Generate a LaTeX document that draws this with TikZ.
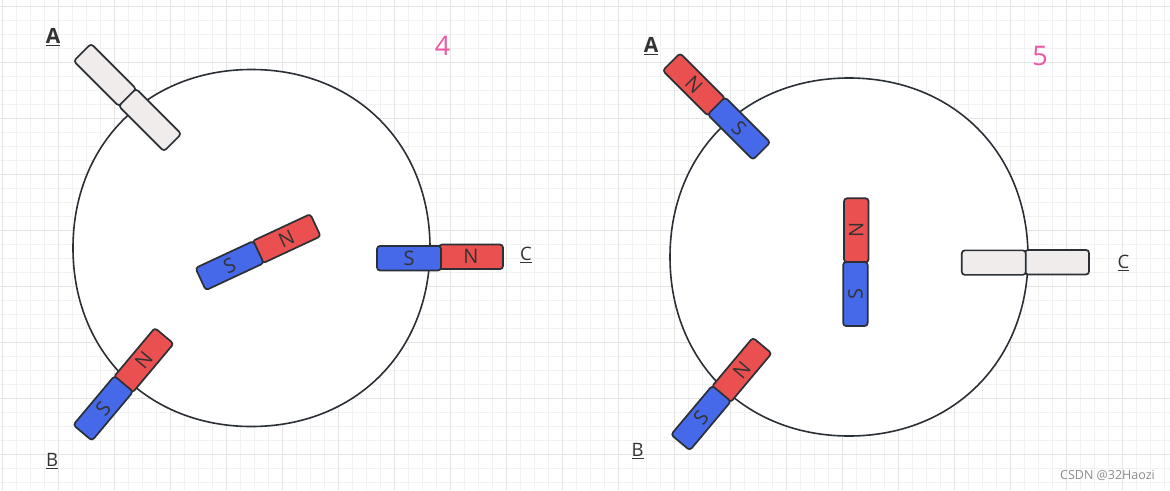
\documentclass[tikz,border=0pt]{standalone}
\usepackage{fontspec}
\setmainfont{Open Sans}
\definecolor{magred}{HTML}{EB5050}
\definecolor{magblue}{HTML}{4669EA}
\definecolor{maggrey}{HTML}{F0ECEC}
\definecolor{inkdark}{HTML}{2B2F36}
\definecolor{textdark}{HTML}{333333}
\definecolor{gridmajor}{HTML}{E4E4E4}
\definecolor{gridminor}{HTML}{F1F1F1}
\definecolor{pinknum}{HTML}{EE55A5}
\tikzset{
  magbox/.style={draw=inkdark,line width=1.7pt,rounded corners=3pt,minimum width=64pt,minimum height=24.5pt,inner sep=0pt,text=textdark,font=\fontsize{20}{20}\selectfont},
  redmag/.style={magbox,fill=magred},
  bluemag/.style={magbox,fill=magblue},
  greymag/.style={magbox,fill=maggrey},
  poslabel/.style={text=textdark,inner sep=0pt,font=\fontsize{18.5}{18}\selectfont},
  boldlabel/.style={poslabel,font=\fontsize{21}{20}\selectfont\bfseries},
  numlabel/.style={text=pinknum,inner sep=0pt,font=\fontsize{27}{26}\selectfont},
  rotorbody/.style={draw=inkdark,line width=1.6pt,fill=white}
}
\newcommand{\rotorshape}[3]{%
  \draw[rotorbody] (#1-#3,#2)
    .. controls (#1-#3,#2-0.582*#3) and (#1-0.582*#3,#2-#3) .. (#1,#2-#3)
    .. controls (#1+0.582*#3,#2-#3) and (#1+#3,#2-0.582*#3) .. (#1+#3,#2)
    .. controls (#1+#3,#2+0.582*#3) and (#1+0.582*#3,#2+#3) .. (#1,#2+#3)
    .. controls (#1-0.582*#3,#2+#3) and (#1-#3,#2+0.582*#3) .. (#1-#3,#2) -- cycle;}
\begin{document}
\begin{tikzpicture}[x=1pt,y=-1pt]
\useasboundingbox (0,0) rectangle (1170,490);
\fill[white] (0,0) rectangle (1170,490);
% grid
\foreach \k in {0,...,83} {\draw[gridminor,line width=1pt] ({2+14*\k},0) -- ({2+14*\k},490);}
\foreach \k in {0,...,34} {\draw[gridminor,line width=1pt] (0,{6+14*\k}) -- (1170,{6+14*\k});}
\foreach \k in {0,...,20} {\draw[gridmajor,line width=1pt] ({2+56*\k},0) -- ({2+56*\k},490);}
\foreach \k in {0,...,8} {\draw[gridmajor,line width=1pt] (0,{6+56*\k}) -- (1170,{6+56*\k});}
% left figure
\rotorshape{251.5}{248}{178.5}
\node[greymag,rotate=-45] (la1) at (105,75) {};
\node[greymag,rotate=-45] (la2) at (150,120) {};
\node[redmag,rotate=25] (lmn) at (286.5,238.7) {N};
\node[bluemag,rotate=25] (lms) at (229.6,265.6) {S};
\node[redmag] (lcn) at (471,256.8) {N};
\node[bluemag] (lcs) at (409,258.2) {S};
\node[redmag,rotate=50] (lbn) at (143.7,360.3) {N};
\node[bluemag,rotate=50] (lbs) at (103.2,408.3) {S};
\node[boldlabel] (la) at (53,37) {\underline{A}};
\node[poslabel] (lb) at (52,461) {\underline{B}};
\node[poslabel] (lc) at (526,255) {\underline{C}};
\node[numlabel] (n4) at (442.5,46) {4};
% right figure
\rotorshape{849}{257}{179}
\node[redmag,rotate=-45] (ran) at (694,84.5) {N};
\node[bluemag,rotate=-45] (ras) at (739,128.5) {S};
\node[redmag,rotate=90] (rmn) at (856.3,230.3) {N};
\node[bluemag,rotate=90] (rms) at (855.4,294) {S};
\node[greymag] (rc2) at (1057,262.2) {};
\node[greymag] (rc1) at (993.8,262.6) {};
\node[redmag,rotate=50] (rbn) at (741.7,370) {N};
\node[bluemag,rotate=50] (rbs) at (701,418) {S};
\node[boldlabel] (ra) at (651,46) {\underline{A}};
\node[poslabel] (rb) at (637.5,451) {\underline{B}};
\node[poslabel] (rc) at (1123.5,263) {\underline{C}};
\node[numlabel] (n5) at (1040,56) {5};
\node[text=black!45,inner sep=0pt,font=\fontsize{12.5}{13}\selectfont,anchor=east] (wm) at (1155,475) {CSDN @32Haozi};
\end{tikzpicture}
\end{document}
